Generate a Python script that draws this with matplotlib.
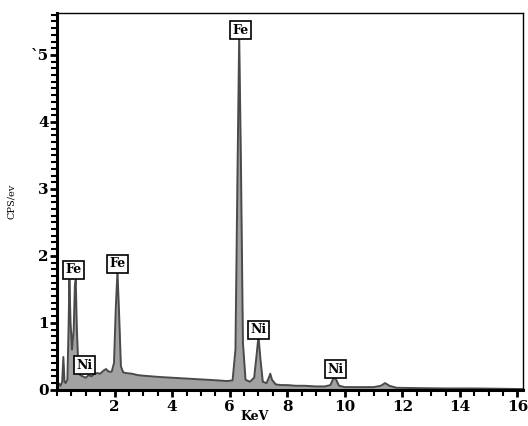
import matplotlib
matplotlib.use("Agg")
import matplotlib.pyplot as plt
from matplotlib.ticker import MultipleLocator

# EDS spektar - vrijednosti ocitane sa slike
energy = [0.0, 0.05, 0.12, 0.18, 0.22, 0.26, 0.30, 0.36, 0.40, 0.43, 0.47, 0.52,
          0.58, 0.62, 0.65, 0.69, 0.74, 0.80, 0.90, 1.0, 1.1, 1.2, 1.3, 1.4, 1.5,
          1.6, 1.7, 1.8, 1.9, 1.98, 2.04, 2.10, 2.16, 2.22, 2.3, 2.4, 2.6, 2.8,
          3.0, 3.3, 3.6, 4.0, 4.4, 4.8, 5.2, 5.6, 5.9, 6.1, 6.2, 6.27, 6.33, 6.39,
          6.46, 6.55, 6.7, 6.85, 6.93, 7.0, 7.07, 7.15, 7.28, 7.36, 7.41, 7.47,
          7.6, 7.8, 8.0, 8.3, 8.6, 9.0, 9.3, 9.5, 9.58, 9.64, 9.7, 9.8, 10.0,
          10.5, 11.0, 11.25, 11.4, 11.55, 11.8, 12.5, 13.5, 14.5, 15.5, 16.2]
cps = [0.02, 0.10, 0.06, 0.12, 0.49, 0.12, 0.10, 0.15, 0.90, 1.64, 1.00, 0.60,
       0.90, 1.55, 1.64, 0.90, 0.35, 0.22, 0.20, 0.18, 0.22, 0.20, 0.24, 0.25, 0.24,
       0.28, 0.31, 0.27, 0.27, 0.40, 1.20, 1.77, 1.10, 0.35, 0.26, 0.25, 0.24, 0.22,
       0.21, 0.20, 0.19, 0.18, 0.17, 0.16, 0.15, 0.14, 0.13, 0.14, 0.60, 3.20, 5.30, 3.40,
       0.70, 0.15, 0.12, 0.18, 0.50, 0.80, 0.45, 0.12, 0.10, 0.18, 0.24, 0.15,
       0.08, 0.07, 0.07, 0.06, 0.06, 0.05, 0.05, 0.07, 0.15, 0.19, 0.15, 0.06, 0.04,
       0.04, 0.04, 0.06, 0.10, 0.06, 0.03, 0.025, 0.02, 0.02, 0.015, 0.01]

# oznake elemenata
label_text = ["Fe", "Fe", "Ni", "Fe", "Ni", "Ni"]
label_x = [0.56, 2.09, 0.94, 6.37, 6.99, 9.67]
label_y = [1.79, 1.88, 0.37, 5.37, 0.90, 0.31]

fig = plt.figure(figsize=(5.28, 4.26), dpi=100)
ax = fig.add_axes([0.108, 0.085, 0.883, 0.885])

ax.fill_between(energy, cps, 0, color="#a2a2a2", lw=0)
ax.plot(energy, cps, color="#4a4a4a", lw=1.4)

for t, x, y in zip(label_text, label_x, label_y):
    ax.text(x, y, t, ha="center", va="center", family="DejaVu Serif",
            fontweight="bold", fontsize=9,
            bbox=dict(boxstyle="square,pad=0.2", fc="white", ec="black", lw=1.2))

ax.set_xlim(0, 16.2)
ax.set_ylim(0, 5.63)
ax.xaxis.set_minor_locator(MultipleLocator(0.5))
ax.yaxis.set_minor_locator(MultipleLocator(0.1))
ax.set_xticks([2, 4, 6, 8, 10, 12, 14, 16])
ax.set_yticks([0, 1, 2, 3, 4, 5])
ax.set_yticklabels(["0", "1", "2", "3", "4", "`5"])

for lab in ax.get_xticklabels() + ax.get_yticklabels():
    lab.set_family("DejaVu Serif")
    lab.set_fontweight("bold")
    lab.set_fontsize(11)

ax.tick_params(which="major", direction="out", length=5, width=2)
ax.tick_params(which="minor", direction="out", length=4, width=1.5)
ax.tick_params(axis="x", pad=2)
ax.tick_params(axis="y", pad=1)

for s in ["left", "bottom"]:
    ax.spines[s].set_linewidth(2.2)
for s in ["top", "right"]:
    ax.spines[s].set_linewidth(1.0)

ax.set_xlabel("KeV", family="DejaVu Serif", fontweight="bold", fontsize=9)
ax.xaxis.set_label_coords(0.423, -0.054)
ax.set_ylabel("CPS/ev", family="DejaVu Serif", fontsize=7)
ax.yaxis.set_label_coords(-0.088, 0.5)

plt.savefig("out.png", dpi=100)
